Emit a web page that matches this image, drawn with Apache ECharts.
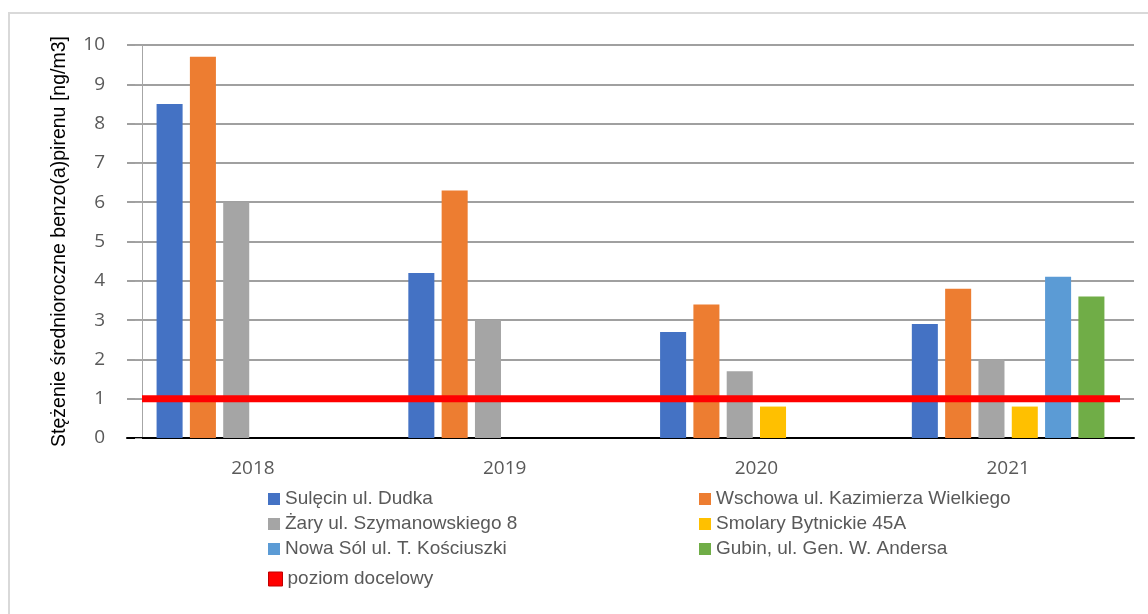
<!DOCTYPE html>
<html>
<head>
<meta charset="utf-8">
<script src="https://cdn.jsdelivr.net/npm/echarts@6/dist/echarts.min.js"></script>
<style>
html,body{margin:0;padding:0;background:#fff;}
#c{width:1148px;height:614px;}
</style>
</head>
<body>
<div id="c"></div>
<script>
const years = ['2018', '2019', '2020', '2021'];
const sulecin = [8.5, 4.2, 2.7, 2.9];
const wschowa = [9.7, 6.3, 3.4, 3.8];
const zary = [6.0, 3.0, 1.7, 2.0];
const smolary = [null, null, 0.8, 0.8];
const nowaSol = [null, null, null, 4.1];
const gubin = [null, null, null, 3.6];
const targetLevel = [1, 1, 1, 1];
const yTicks = [0, 1, 2, 3, 4, 5, 6, 7, 8, 9, 10];

const names = {
  sulecin: 'Sulęcin ul. Dudka',
  wschowa: 'Wschowa ul. Kazimierza Wielkiego',
  zary: 'Żary ul. Szymanowskiego 8',
  smolary: 'Smolary Bytnickie 45A',
  nowaSol: 'Nowa Sól ul. T. Kościuszki',
  gubin: 'Gubin, ul. Gen. W. Andersa',
  target: 'poziom docelowy'
};
const colors = {
  sulecin: '#4472C4', wschowa: '#ED7D31', zary: '#A5A5A5',
  smolary: '#FFC000', nowaSol: '#5B9BD5', gubin: '#70AD47', target: '#FF0000'
};

const font = '"Liberation Sans", Arial, sans-serif';
const numFont = '"Open Sans", "Liberation Sans", sans-serif';

function bar(key, data) {
  return {
    name: names[key], type: 'bar', data: data,
    xAxisIndex: 0, yAxisIndex: 0,
    barGap: '28%', barCategoryGap: '23.5%',
    itemStyle: { color: colors[key] },
    z: 2
  };
}

const legendText = { fontFamily: font, fontSize: 19, color: '#595959', lineHeight: 20 };

const chart = echarts.init(document.getElementById('c'), null, { renderer: 'canvas' });
chart.setOption({
  animation: false,
  backgroundColor: '#fff',
  graphic: [{
    type: 'rect', silent: true, z: -10,
    shape: { x: 9, y: 13, width: 1200, height: 700 },
    style: { fill: 'none', stroke: '#d9d9d9', lineWidth: 2 }
  }],
  grid: { left: 127, right: 14, top: 45, bottom: 176, containLabel: false },
  xAxis: [{
    type: 'category', data: years,
    axisLine: { show: true, lineStyle: { color: '#000', width: 2 } },
    axisTick: { show: false },
    axisLabel: { fontFamily: numFont, fontSize: 19, color: '#595959', margin: 21 },
    splitLine: { show: false }
  }, {
    type: 'value', show: false, min: -0.046, max: 3.043
  }],
  yAxis: {
    type: 'value', min: yTicks[0], max: yTicks[yTicks.length - 1], interval: 1,
    name: 'Stężenie średnioroczne benzo(a)pirenu [ng/m3]',
    nameLocation: 'middle', nameGap: 57,
    nameTextStyle: { fontFamily: font, fontSize: 19.5, color: '#000' },
    axisLine: { show: true, lineStyle: { color: '#a6a6a6', width: 1 } },
    axisTick: { show: true, inside: false, length: 7, lineStyle: { color: '#a6a6a6' } },
    axisLabel: { fontFamily: numFont, fontSize: 19, color: '#595959', margin: 22 },
    splitLine: { show: true, lineStyle: { color: '#a0a0a0', width: 2 } }
  },
  legend: [{
    orient: 'vertical', left: 263, top: 484, itemWidth: 12, itemHeight: 12, itemGap: 5,
    icon: 'rect', textStyle: legendText,
    data: [names.sulecin, names.zary, names.nowaSol]
  }, {
    orient: 'vertical', left: 694, top: 484, itemWidth: 12, itemHeight: 12, itemGap: 5,
    icon: 'rect', textStyle: legendText,
    data: [names.wschowa, names.smolary, names.gubin]
  }, {
    orient: 'vertical', left: 263, top: 564, itemWidth: 14, itemHeight: 14, itemGap: 5,
    textStyle: legendText,
    data: [{ name: names.target, icon: 'rect',
      itemStyle: { color: '#FF0000', borderColor: '#C00000', borderWidth: 1 } }]
  }],
  series: [
    bar('sulecin', sulecin),
    bar('wschowa', wschowa),
    bar('zary', zary),
    bar('smolary', smolary),
    bar('nowaSol', nowaSol),
    bar('gubin', gubin),
    {
      name: names.target, type: 'line', xAxisIndex: 1, yAxisIndex: 0,
      data: targetLevel.map((v, i) => [i, v]),
      symbol: 'none', z: 5,
      lineStyle: { color: colors.target, width: 7 },
      itemStyle: { color: colors.target }
    }
  ]
});
</script>
</body>
</html>
